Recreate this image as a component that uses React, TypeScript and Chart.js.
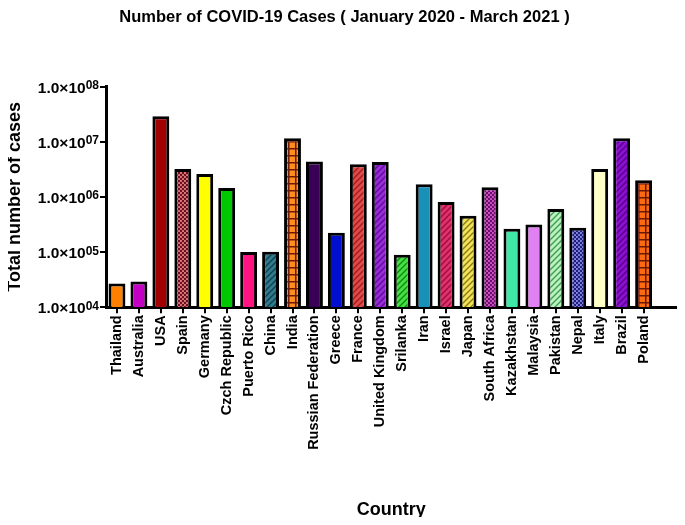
import React, { useEffect, useRef } from "react";
import { Chart, registerables } from "chart.js";

Chart.register(...registerables);

const FONT = "'Liberation Sans', Arial, sans-serif";

const titleText = "Number of COVID-19 Cases ( January 2020 - March 2021 )";
const yTitle = "Total number of cases";
const xTitle = "Country";

const countries = [
  "Thailand", "Australia", "USA", "Spain", "Germany", "Czch Republic", "Puerto Rico",
  "China", "India", "Russian Federation", "Greece", "France", "United Kingdom",
  "Srilanka", "Iran", "Israel", "Japan", "South Africa", "Kazakhstan", "Malaysia",
  "Pakistan", "Nepal", "Italy", "Brazil", "Poland", "",
];

const cases = [
  27000, 29400, 29000000, 3200000, 2600000, 1450000, 100000,
  102000, 11500000, 4400000, 224000, 3900000, 4300000,
  90000, 1700000, 810000, 455000, 1500000, 265000, 315000,
  605000, 275000, 3200000, 11500000, 2000000, null,
];

const yTickValues = [1e4, 1e5, 1e6, 1e7, 1e8];
const yTickMantissa = ["1.0×10", "1.0×10", "1.0×10", "1.0×10", "1.0×10"];
const yTickExponents = ["04", "05", "06", "07", "08"];

// style per bar: [kind, base colour, pattern colour]
const barStyles: [string, string, string][] = [
  ["solid", "#FF8000", ""],
  ["solid", "#C400C4", ""],
  ["solid", "#A00000", ""],
  ["dots", "#E88080", "#6A1020"],
  ["solid", "#FFFF00", ""],
  ["solid", "#00C800", ""],
  ["solid", "#FF1482", ""],
  ["diag", "#2E7C90", "#163E4C"],
  ["grid", "#FF8C1E", "#6B1A0A"],
  ["solid", "#3A0058", ""],
  ["solid", "#0010D0", ""],
  ["diag", "#E24A4A", "#A01E1E"],
  ["diag", "#9A2BD8", "#5E0E98"],
  ["diag", "#44E044", "#108A10"],
  ["solid", "#1890B8", ""],
  ["diag", "#E2306C", "#9A0E40"],
  ["diag", "#F2E458", "#8A7A18"],
  ["dots", "#D858CC", "#6A106A"],
  ["solid", "#40E8A8", ""],
  ["solid", "#E080F2", ""],
  ["diag", "#BCF2BC", "#3C9C58"],
  ["dots", "#8C8CEA", "#20207A"],
  ["solid", "#FFFFC8", ""],
  ["diag", "#8C10D2", "#56008C"],
  ["grid", "#FF6A10", "#6B1A0A"],
  ["solid", "#FFFFFF", ""],
];

function makeFill(kind: string, bg: string, fg: string): string | CanvasPattern {
  if (kind === "solid") return bg;
  const c = document.createElement("canvas");
  const s = kind === "grid" ? 7 : kind === "dots" ? 4 : 6;
  c.width = s;
  c.height = s;
  const g = c.getContext("2d")!;
  if (kind === "diag") {
    g.fillStyle = bg;
    g.fillRect(0, 0, s, s);
    g.strokeStyle = fg;
    g.lineWidth = 1.4;
    g.beginPath();
    g.moveTo(0, s);
    g.lineTo(s, 0);
    g.moveTo(-2, 2);
    g.lineTo(2, -2);
    g.moveTo(s - 2, s + 2);
    g.lineTo(s + 2, s - 2);
    g.stroke();
  } else if (kind === "dots") {
    g.fillStyle = fg;
    g.fillRect(0, 0, s, s);
    g.fillStyle = bg;
    g.beginPath();
    g.arc(1, 1, 1.05, 0, Math.PI * 2);
    g.arc(3, 3, 1.05, 0, Math.PI * 2);
    g.fill();
  } else {
    g.fillStyle = bg;
    g.fillRect(0, 0, s, s);
    g.fillStyle = fg;
    g.fillRect(0, 0, s, 1.5);
    g.fillRect(0, 0, 1.5, s);
  }
  return g.createPattern(c, "repeat")!;
}

const yLabelPlugin = {
  id: "yPowerLabels",
  afterDraw(chart: any) {
    const ctx = chart.ctx;
    const y = chart.scales.y;
    ctx.save();
    ctx.fillStyle = "#000";
    ctx.textAlign = "right";
    ctx.textBaseline = "alphabetic";
    yTickValues.forEach((v, i) => {
      const py = y.getPixelForValue(v);
      const xr = y.right - 7;
      ctx.font = `bold 12px ${FONT}`;
      const ew = ctx.measureText(yTickExponents[i]).width;
      ctx.fillText(yTickExponents[i], xr, py + 2.5);
      ctx.font = `bold 15.5px ${FONT}`;
      ctx.fillText(yTickMantissa[i], xr - ew, py + 6);
    });
    ctx.restore();
  },
};

export default function App() {
  const ref = useRef<HTMLCanvasElement>(null);

  useEffect(() => {
    if (!ref.current) return;
    const fills = barStyles.map(([k, b, f]) => makeFill(k, b, f));
    const chart = new Chart(ref.current, {
      type: "bar",
      data: {
        labels: countries,
        datasets: [
          {
            data: cases as any,
            backgroundColor: fills as any,
            borderColor: "#000",
            borderWidth: 3,
            barPercentage: 0.77,
            categoryPercentage: 1,
          },
        ],
      },
      plugins: [yLabelPlugin],
      options: {
        animation: false,
        responsive: true,
        maintainAspectRatio: false,
        layout: { padding: { left: 0, right: 4, top: 0, bottom: 0 } },
        plugins: {
          legend: { display: false },
          tooltip: { enabled: false },
          title: {
            display: true,
            text: titleText,
            color: "#000",
            font: { family: FONT, size: 16.5, weight: "bold", lineHeight: 1.2 },
            padding: { top: 0, bottom: 58.7 },
          },
        },
        scales: {
          x: {
            type: "category",
            offset: true,
            grid: {
              display: true,
              drawOnChartArea: false,
              drawTicks: true,
              tickLength: 6,
              offset: false,
              lineWidth: 2,
              color: (c: any) => (c.index === countries.length - 1 ? "rgba(0,0,0,0)" : "#000"),
            },
            border: { display: true, color: "#000", width: 3 },
            ticks: {
              autoSkip: false,
              maxRotation: 90,
              minRotation: 90,
              padding: 2,
              color: "#000",
              font: { family: FONT, size: 14.5, weight: "bold" },
            },
            title: {
              display: true,
              text: xTitle,
              color: "#000",
              font: { family: FONT, size: 18, weight: "bold", lineHeight: 0.8 },
              padding: { top: 0, bottom: 0 },
            },
            afterFit: (s: any) => {
              s.height = 209.7;
            },
          },
          y: {
            type: "logarithmic",
            min: 1e4,
            max: 1e8,
            grid: {
              display: true,
              drawOnChartArea: false,
              drawTicks: true,
              tickLength: 6,
              lineWidth: 2,
              color: "#000",
            },
            border: { display: true, color: "#000", width: 3 },
            ticks: { display: false },
            afterBuildTicks: (s: any) => {
              s.ticks = yTickValues.map((v) => ({ value: v, major: true }));
            },
            title: {
              display: true,
              text: yTitle,
              color: "#000",
              font: { family: FONT, size: 18, weight: "bold", lineHeight: 0.8 },
              padding: { top: 0, bottom: 0 },
            },
            afterFit: (s: any) => {
              s.width = 98;
            },
          },
        },
      },
    });
    return () => chart.destroy();
  }, []);

  return (
    <div style={{ position: "relative", width: 677, height: 509 }}>
      <canvas ref={ref} />
    </div>
  );
}
